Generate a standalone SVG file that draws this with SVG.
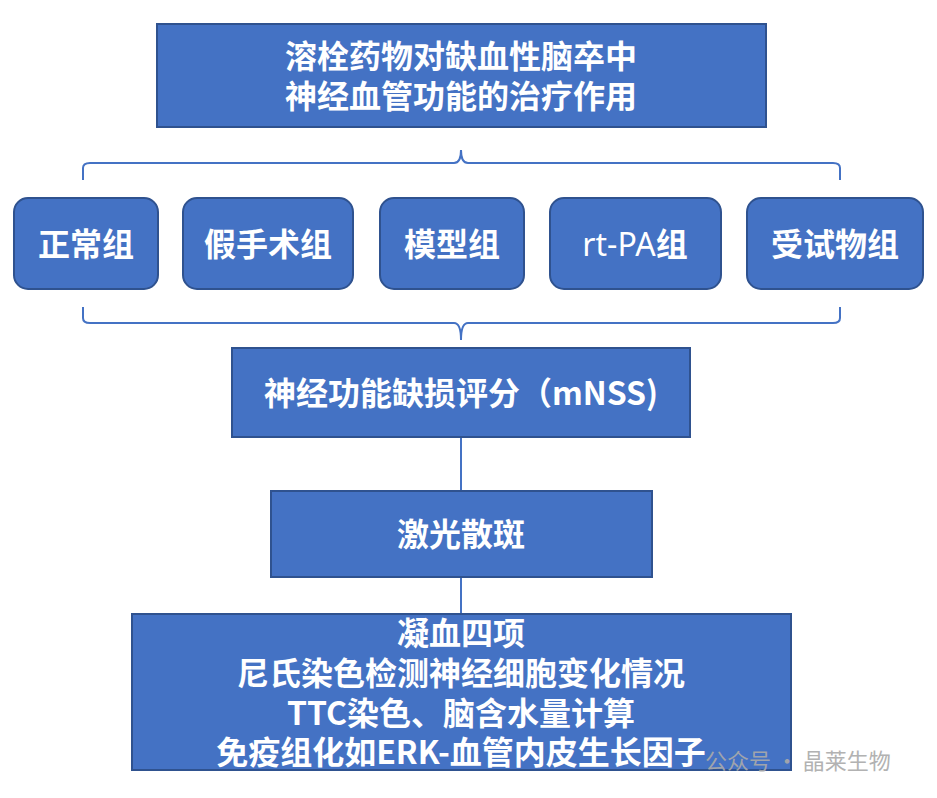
<svg xmlns="http://www.w3.org/2000/svg" width="937" height="798" viewBox="0 0 937 798">
<style>
.b{fill:#4472C4;stroke:#2F528F;stroke-width:2}
.t{font-family:"Noto Sans CJK SC",sans-serif;font-weight:bold;font-size:32px;fill:#fff;text-anchor:middle}
.r{font-family:"Noto Sans","Noto Sans CJK SC",sans-serif;font-weight:normal}
.c{fill:none;stroke:#4472C4;stroke-width:2}
</style>
<rect width="937" height="798" fill="#fff"/>
<g id="connectors">
<path class="c" d="M83,180 V168 Q83,163 90,163 H454 Q461,163 461,150 Q461,163 468,163 H833 Q840,163 840,168 V180"/>
<path class="c" d="M83,307 V318 Q83,323 90,323 H454 Q461,323 461,340 Q461,323 468,323 H833 Q840,323 840,318 V307"/>
<line class="c" x1="461" y1="437" x2="461" y2="491"/>
<line class="c" x1="461" y1="577" x2="461" y2="614"/>
</g>
<g id="title"><rect class="b" x="157" y="24" width="609" height="103"/>
<text class="t" x="461" y="68">溶栓药物对缺血性脑卒中</text><text class="t" x="461" y="108">神经血管功能的治疗作用</text></g>
<g id="g1"><rect class="b" x="14" y="198" width="144" height="91" rx="14"/><text class="t" x="86" y="256">正常组</text></g>
<g id="g2"><rect class="b" x="183" y="198" width="170" height="91" rx="14"/><text class="t" x="268" y="256">假手术组</text></g>
<g id="g3"><rect class="b" x="380" y="198" width="144" height="91" rx="14"/><text class="t" x="452" y="256">模型组</text></g>
<g id="g4"><rect class="b" x="550" y="198" width="171" height="91" rx="14"/><text class="t" x="635" y="256"><tspan class="r">rt-PA</tspan>组</text></g>
<g id="g5"><rect class="b" x="747" y="198" width="176" height="91" rx="14"/><text class="t" x="835" y="256">受试物组</text></g>
<g id="mnss"><rect class="b" x="232" y="348" width="458" height="89"/><text class="t" x="461" y="405">神经功能缺损评分（mNSS)</text></g>
<g id="laser"><rect class="b" x="271" y="491" width="381" height="86"/><text class="t" x="461" y="546">激光散斑</text></g>
<g id="tests"><rect class="b" x="132" y="614" width="659" height="156"/>
<text class="t" x="461" y="645">凝血四项</text><text class="t" x="461" y="685">尼氏染色检测神经细胞变化情况</text><text class="t" x="461" y="725">TTC染色、脑含水量计算</text><text class="t" x="461" y="764">免疫组化如ERK-血管内皮生长因子</text></g>
<text x="705" y="769" font-family="Noto Sans CJK SC,sans-serif" font-size="22" fill="#aaa" opacity="0.9">公众号 · 晶莱生物</text>
</svg>
